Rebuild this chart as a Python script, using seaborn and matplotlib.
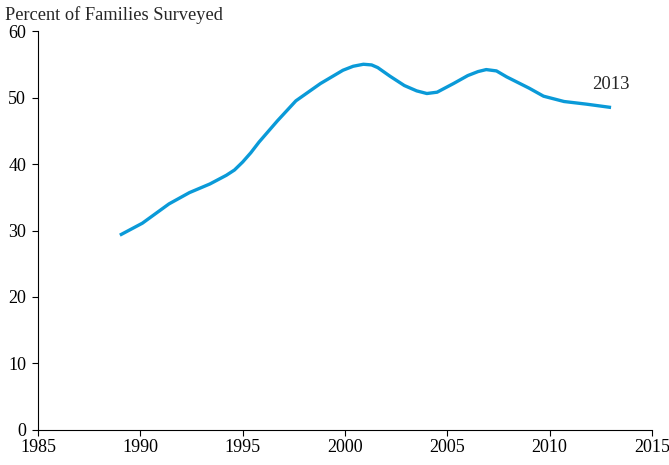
import matplotlib.pyplot as plt
import seaborn as sns
import pandas as pd

plt.switch_backend('Agg')

# points (year, percent of families)
years = [1989.0, 1990.1, 1991.4, 1992.4, 1993.4, 1994.2, 1994.6, 1995.0,
         1995.4, 1995.8, 1996.7, 1997.6, 1998.8, 1999.9, 2000.4, 2000.9,
         2001.3, 2001.6, 2002.2, 2002.9, 2003.5, 2004.0, 2004.5, 2005.3,
         2006.0, 2006.5, 2006.9, 2007.4, 2007.9, 2009.0, 2009.7, 2010.7,
         2011.8, 2013.0]
percent = [29.3, 31.1, 34.0, 35.7, 37.0, 38.3, 39.1, 40.3,
           41.7, 43.3, 46.5, 49.5, 52.1, 54.1, 54.7, 55.0,
           54.9, 54.5, 53.2, 51.8, 51.0, 50.6, 50.8, 52.1,
           53.3, 53.9, 54.2, 54.0, 53.1, 51.4, 50.2, 49.4,
           49.0, 48.5]

x_ticks = [1985, 1990, 1995, 2000, 2005, 2010, 2015]
y_ticks = [0, 10, 20, 30, 40, 50, 60]

df = pd.DataFrame({'year': years, 'percent': percent})

sns.set_style('ticks')
plt.rcParams['font.family'] = ['Liberation Serif', 'DejaVu Serif']
plt.rcParams['font.size'] = 13

fig = plt.figure(figsize=(6.69, 4.65), dpi=100)
ax = fig.add_axes([0.0568, 0.0753, 0.9178, 0.858])

sns.lineplot(data=df, x='year', y='percent', ax=ax, color='#0a9ad8',
             linewidth=2.4, sort=False, solid_joinstyle='round',
             solid_capstyle='butt')

ax.set_xlim(1985, 2015)
ax.set_ylim(0, 60)
ax.set_xticks(x_ticks)
ax.set_yticks(y_ticks)
ax.set_xlabel('')
ax.set_ylabel('')
ax.tick_params(axis='both', direction='out', length=4.5, width=0.8,
               color='black', labelsize=13, labelcolor='black')
ax.tick_params(axis='y', pad=4)
ax.tick_params(axis='x', pad=2)
for side in ['top', 'right']:
    ax.spines[side].set_visible(False)
for side in ['left', 'bottom']:
    ax.spines[side].set_color('black')
    ax.spines[side].set_linewidth(0.8)

ax.text(2013, 51.9, '2013', ha='center', va='center', fontsize=13.5)
fig.text(0.007, 0.968, 'Percent of Families Surveyed', ha='left', va='center',
         fontsize=13.2)

fig.savefig('out.png', dpi=100)
plt.close()
